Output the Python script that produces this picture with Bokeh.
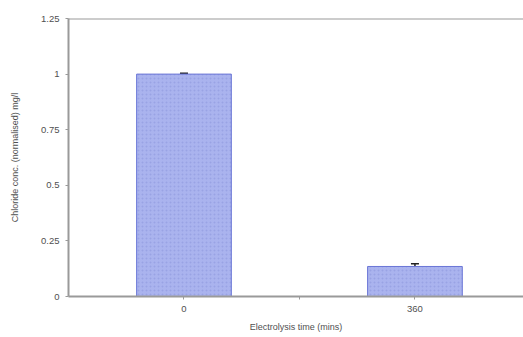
from bokeh.plotting import figure
from bokeh.models import ColumnDataSource, Whisker, Span, FixedTicker
from bokeh.embed import file_html
from bokeh.resources import INLINE

categories = ["0", "360"]
positions = [0, 1]
values = [1.0, 0.135]
errors = [0.004, 0.012]
y_ticks = [0, 0.25, 0.5, 0.75, 1, 1.25]
y_labels = ["0", "0.25", "0.5", "0.75", "1", "1.25"]

src = ColumnDataSource(dict(
    x=positions, top=values,
    lower=[v - e for v, e in zip(values, errors)],
    upper=[v + e for v, e in zip(values, errors)],
))

p = figure(width=523, height=337, x_range=(-0.5, 1.47), y_range=(0, 1.25),
           output_backend="svg", toolbar_location=None,
           min_border_left=68, min_border_right=0, min_border_top=18, min_border_bottom=41)
p.outline_line_color = None
p.grid.grid_line_color = None
p.background_fill_color = "white"

p.vbar(x="x", top="top", width=0.41, source=src,
       fill_color="#aab3ee", line_color="#6a76d6", line_width=1,
       hatch_pattern="dot", hatch_color="#8d97de", hatch_scale=4, hatch_alpha=0.6)

w = Whisker(base="x", lower="lower", upper="upper", source=src,
            line_color="#222222", line_width=1.5)
w.upper_head.size = 8
w.lower_head.size = 8
w.upper_head.line_color = "#222222"
w.lower_head.line_color = "#222222"
w.upper_head.line_width = 1.5
w.lower_head.line_width = 1.5
p.add_layout(w)

p.add_layout(Span(location=1.25, dimension="width", line_color="#9a9a9a", line_width=2))

for ax in (p.xaxis, p.yaxis):
    ax.axis_line_color = "#9a9a9a"
    ax.axis_line_width = 2
    ax.major_tick_line_color = "#9a9a9a"
    ax.minor_tick_line_color = None
    ax.major_tick_in = 0
    ax.major_tick_out = 3
    ax.major_label_text_font = "Liberation Sans"
    ax.major_label_text_font_size = "9.5px"
    ax.major_label_text_color = "#505050"
    ax.axis_label_text_font = "Liberation Sans"
    ax.axis_label_text_font_size = "9px"
    ax.axis_label_text_font_style = "normal"
    ax.axis_label_text_color = "#505050"

p.xaxis.ticker = FixedTicker(ticks=[0, 0.5, 1])
p.xaxis.major_label_overrides = {0: categories[0], 0.5: "", 1: categories[1]}
p.xaxis.axis_label = "Electrolysis time (mins)"
p.xaxis.axis_label_standoff = 7
p.xaxis.major_label_standoff = 6

p.yaxis.ticker = FixedTicker(ticks=y_ticks)
p.yaxis.major_label_overrides = {t: l for t, l in zip(y_ticks, y_labels)}
p.yaxis.axis_label = "Chloride conc. (normalised) mg/l"
p.yaxis.axis_label_standoff = 18
p.yaxis.major_label_standoff = 6

open("out.html", "w").write(file_html(p, INLINE))
